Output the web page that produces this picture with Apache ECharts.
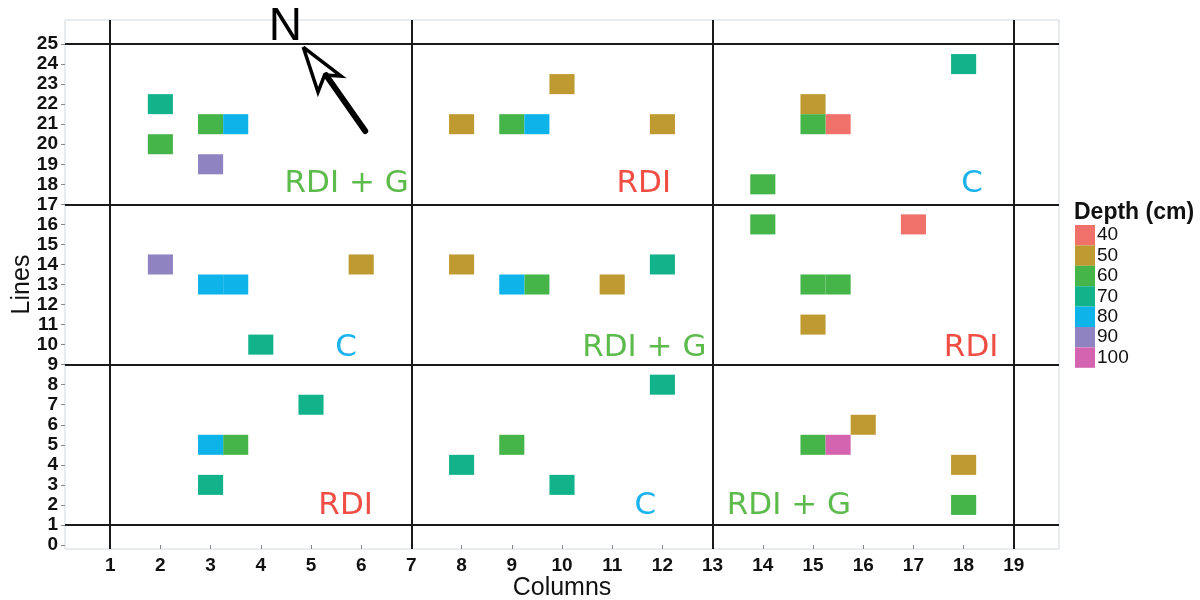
<!DOCTYPE html>
<html>
<head>
<meta charset="utf-8">
<script src="https://cdn.jsdelivr.net/npm/echarts@6/dist/echarts.min.js"></script>
<style>html,body{margin:0;padding:0;background:#fff}#c{width:1200px;height:600px}</style>
</head>
<body>
<div id="c"></div>
<script>
// ---- data ----
const tileColumns = [2, 2, 3, 3.5, 3, 2, 3, 3.5, 6, 4, 5, 3, 3.5, 3,
  10, 8, 9, 9.5, 12, 8, 9, 9.5, 11, 12, 12, 9, 8, 10,
  18, 15, 15, 15.5, 14, 14, 17, 15, 15.5, 15, 16, 15, 15.5, 18, 18];
const tileLines = [22, 20, 21, 21, 19, 14, 13, 13, 14, 10, 7, 5, 5, 3,
  23, 21, 21, 21, 21, 14, 13, 13, 13, 14, 8, 5, 4, 3,
  24, 22, 21, 21, 18, 16, 16, 13, 13, 11, 6, 5, 5, 4, 2];
const tileDepths = [70, 60, 60, 80, 90, 90, 80, 80, 50, 70, 70, 80, 60, 70,
  50, 50, 60, 80, 50, 50, 80, 60, 50, 70, 70, 60, 70, 70,
  70, 50, 60, 40, 60, 60, 40, 60, 60, 50, 50, 60, 100, 50, 60];

const depthLevels = [40, 50, 60, 70, 80, 90, 100];
const depthColors = ['#F0706A', '#BF9A30', '#45B54A', '#12B38B', '#0DB3E9', '#8F83C2', '#D564B0'];

const xTicks = [1,2,3,4,5,6,7,8,9,10,11,12,13,14,15,16,17,18,19];
const yTicks = [0,1,2,3,4,5,6,7,8,9,10,11,12,13,14,15,16,17,18,19,20,21,22,23,24,25];

const blockColumnBounds = [1, 7, 13, 19];
const blockLineBounds = [1, 9, 17, 25];

const treatText = ['RDI + G', 'RDI', 'C', 'C', 'RDI + G', 'RDI', 'RDI', 'C', 'RDI + G'];
const treatX = [5.71, 11.63, 18.17, 5.70, 11.64, 18.15, 5.69, 11.66, 14.52];
const treatY = [18.0, 18.0, 18.0, 9.85, 9.85, 9.85, 1.93, 1.93, 1.93];
const treatColors = { 'RDI': '#F04E45', 'RDI + G': '#5DBB4C', 'C': '#1BB3EE' };

// north arrow (data coordinates)
const arrowShaftX = [5.30, 6.08];
const arrowShaftY = [23.45, 20.66];
const arrowHeadX = [4.845, 5.60, 5.27, 5.14, 4.845];
const arrowHeadY = [24.85, 23.40, 23.45, 22.60, 24.85];
const northLabel = { text: 'N', x: 4.49, y: 25.85 };

// ---- chart ----
const chart = echarts.init(document.getElementById('c'), null, { renderer: 'canvas' });

const tileSeries = depthLevels.map((d, i) => {
  const data = [];
  for (let k = 0; k < tileDepths.length; k++) {
    if (tileDepths[k] === d) data.push([tileColumns[k], tileLines[k]]);
  }
  return {
    name: String(d),
    type: 'custom',
    itemStyle: { color: depthColors[i] },
    data: data,
    z: 3,
    renderItem: function (params, api) {
      const x = api.value(0), y = api.value(1);
      const p1 = api.coord([x - 0.25, y + 0.5]);
      const p2 = api.coord([x + 0.25, y - 0.5]);
      return {
        type: 'rect',
        shape: { x: p1[0], y: p1[1], width: p2[0] - p1[0], height: p2[1] - p1[1] },
        style: { fill: api.visual('color') }
      };
    }
  };
});

const treatData = treatText.map((t, i) => [treatX[i], treatY[i], t]);

const option = {
  animation: false,
  backgroundColor: '#ffffff',
  grid: { left: 65, right: 141, top: 20, bottom: 51, containLabel: false, outerBoundsMode: 'none',
    show: true, borderColor: '#d3d9de', borderWidth: 1, backgroundColor: '#ffffff' },
  xAxis: {
    type: 'value', min: 0.1, max: 19.9,
    name: 'Columns', nameLocation: 'middle', nameGap: 27, nameMoveOverlap: false,
    nameTextStyle: { fontFamily: 'Liberation Sans', fontSize: 25, color: '#111', verticalAlign: 'top' },
    axisLine: { show: false },
    splitLine: { show: false },
    axisTick: { show: true, length: 4, lineStyle: { color: '#888' }, customValues: xTicks },
    axisLabel: { customValues: xTicks, fontFamily: 'Liberation Sans', fontWeight: 'bold', fontSize: 19, color: '#111', margin: 7 }
  },
  yAxis: {
    type: 'value', min: -0.2, max: 26.2,
    name: 'Lines', nameLocation: 'middle', nameGap: 30, nameRotate: 90, nameMoveOverlap: false,
    nameTextStyle: { fontFamily: 'Liberation Sans', fontSize: 25, color: '#111' },
    axisLine: { show: false },
    splitLine: { show: false },
    axisTick: { show: true, length: 4, lineStyle: { color: '#888' }, customValues: yTicks },
    axisLabel: { customValues: yTicks, fontFamily: 'Liberation Sans', fontWeight: 'bold', fontSize: 19, lineHeight: 19, color: '#111', margin: 7 }
  },
  legend: {
    orient: 'vertical', left: 1075, top: 225, padding: 0,
    itemWidth: 20, itemHeight: 20.4, itemGap: 0, icon: 'rect',
    data: depthLevels.map(String),
    textStyle: { fontFamily: 'Liberation Sans', fontSize: 19, color: '#111', lineHeight: 20.4, padding: [0, 0, 0, -3] },
    selectedMode: false
  },
  graphic: [{
    type: 'text', left: 1074, top: 201,
    style: { text: 'Depth (cm)', fontFamily: 'Liberation Sans', fontWeight: 'bold', fontSize: 23, fill: '#111' }
  }],
  series: [
    {
      name: 'blocks', type: 'line', data: [], silent: true, z: 2,
      markLine: {
        silent: true, symbol: ['none', 'none'], animation: false,
        label: { show: false },
        lineStyle: { color: '#1a1a1a', width: 2, type: 'solid' },
        data: blockColumnBounds.map(v => ({ xAxis: v })).concat(blockLineBounds.map(v => ({ yAxis: v })))
      }
    },
    ...tileSeries,
    {
      name: 'treatments', type: 'custom', data: treatData, z: 4, silent: true,
      renderItem: function (params, api) {
        const p = api.coord([api.value(0), api.value(1)]);
        const t = treatData[params.dataIndex][2];
        return {
          type: 'text', x: p[0], y: p[1],
          style: { text: t, fill: treatColors[t], font: '31px "DejaVu Sans"', align: 'center', verticalAlign: 'middle' }
        };
      }
    },
    {
      name: 'arrowShaft', type: 'line', silent: true, z: 5, symbol: 'none',
      data: arrowShaftX.map((x, i) => [x, arrowShaftY[i]]),
      lineStyle: { color: '#000', width: 6, cap: 'round' }
    },
    {
      name: 'arrowHead', type: 'line', silent: true, z: 5, symbol: 'none',
      data: arrowHeadX.map((x, i) => [x, arrowHeadY[i]]),
      lineStyle: { color: '#000', width: 3.5, join: 'miter' }
    },
    {
      name: 'north', type: 'custom', data: [[northLabel.x, northLabel.y]], z: 6, silent: true,
      renderItem: function (params, api) {
        const p = api.coord([api.value(0), api.value(1)]);
        return {
          type: 'text', x: p[0], y: p[1],
          style: { text: northLabel.text, fill: '#000', font: '46px "Liberation Sans"', align: 'center', verticalAlign: 'middle' }
        };
      }
    }
  ]
};
chart.setOption(option);
</script>
</body>
</html>
